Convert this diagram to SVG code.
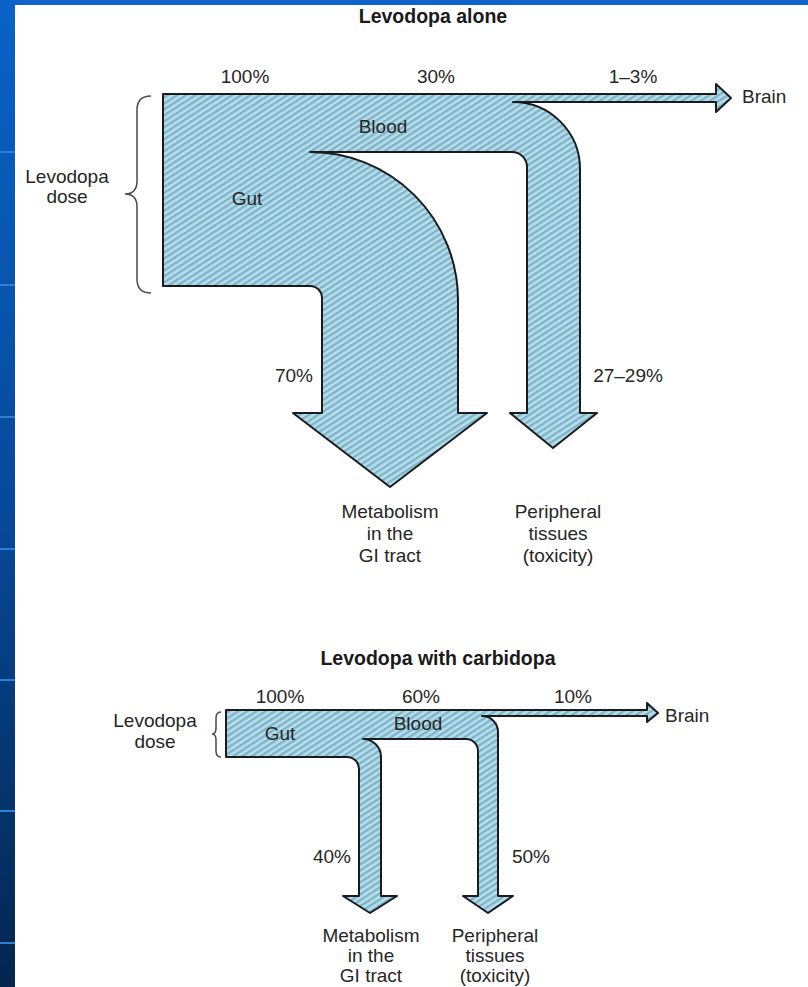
<svg xmlns="http://www.w3.org/2000/svg" width="808" height="987" viewBox="0 0 808 987">
  <defs>
    <linearGradient id="sideGrad" x1="0" y1="0" x2="0" y2="1">
      <stop offset="0" stop-color="#0a62c8"/>
      <stop offset="0.5" stop-color="#074a9c"/>
      <stop offset="1" stop-color="#04264f"/>
    </linearGradient>
    <pattern id="hatch" patternUnits="userSpaceOnUse" width="6" height="5" patternTransform="rotate(-33)">
      <rect width="6" height="5" fill="#b9deeb"/>
      <rect width="6" height="2.4" fill="#7db4ca"/>
    </pattern>
    <style>
      .flow { fill: url(#hatch); stroke: #1b1b1b; stroke-width: 2; stroke-linejoin: round; }
      .brace { fill: none; stroke: #4a4a4a; stroke-width: 1.5; }
      .lbl { font-family: "Liberation Sans", Arial, sans-serif; font-size: 19px; fill: #262626; text-anchor: middle; }
      .ttl { font-family: "Liberation Sans", Arial, sans-serif; font-size: 19.5px; font-weight: bold; fill: #1a1a1a; text-anchor: middle; }
      .sep { stroke: #2f7fd6; stroke-width: 2; }
    </style>
  </defs>

  <!-- background frame -->
  <g id="frame">
    <rect x="0" y="0" width="808" height="987" fill="#ffffff"/>
    <rect x="0" y="0" width="808" height="5" fill="#0d63c9"/>
    <rect x="0" y="0" width="15" height="987" fill="url(#sideGrad)"/>
    <line class="sep" x1="0" y1="152" x2="15" y2="152"/>
    <line class="sep" x1="0" y1="285" x2="15" y2="285"/>
    <line class="sep" x1="0" y1="417" x2="15" y2="417"/>
    <line class="sep" x1="0" y1="549" x2="15" y2="549"/>
    <line class="sep" x1="0" y1="680" x2="15" y2="680"/>
    <line class="sep" x1="0" y1="811" x2="15" y2="811"/>
    <line class="sep" x1="0" y1="943" x2="15" y2="943"/>
  </g>

  <!-- ===== Top diagram: Levodopa alone ===== -->
  <g id="top-title">
    <text class="ttl" x="433" y="23">Levodopa alone</text>
  </g>

  <g id="top-flow">
    <path class="flow" d="M163,94 L716,94 L716,84 L731,98 L716,112 L716,102 L513,102
      A67,67 0 0 1 580,169 L580,413 L597,413 L553,448 L510,413 L527,413 L527,167
      A15,15 0 0 0 512,152 L310,152 A148,148 0 0 1 458,300 L458,413 L487,413 L390,487
      L293,413 L322,413 L322,298 A12,12 0 0 0 310,286 L163,286 Z"/>
  </g>

  <g id="top-dose">
    <path class="brace" d="M151,96 Q137,96 137,110 L137,181 Q137,194 125,194 Q137,194 137,207 L137,279 Q137,293 151,293"/>
    <text class="lbl" x="67" y="183">Levodopa</text>
    <text class="lbl" x="67" y="203">dose</text>
  </g>

  <g id="top-labels">
    <text class="lbl" x="245" y="83">100%</text>
    <text class="lbl" x="436" y="83">30%</text>
    <text class="lbl" x="633" y="83">1–3%</text>
    <text class="lbl" x="383" y="133">Blood</text>
    <text class="lbl" x="247" y="205">Gut</text>
    <text class="lbl" x="294" y="382">70%</text>
    <text class="lbl" x="628" y="382">27–29%</text>
  </g>

  <g id="top-brain">
    <text class="lbl" x="742" y="103" style="text-anchor:start">Brain</text>
  </g>

  <g id="top-metabolism">
    <text class="lbl" x="390" y="518">Metabolism</text>
    <text class="lbl" x="390" y="540">in the</text>
    <text class="lbl" x="390" y="562">GI tract</text>
  </g>

  <g id="top-peripheral">
    <text class="lbl" x="558" y="518">Peripheral</text>
    <text class="lbl" x="558" y="540">tissues</text>
    <text class="lbl" x="558" y="562">(toxicity)</text>
  </g>

  <!-- ===== Bottom diagram: Levodopa with carbidopa ===== -->
  <g id="bottom-title">
    <text class="ttl" x="438" y="665">Levodopa with carbidopa</text>
  </g>

  <g id="bottom-flow">
    <path class="flow" d="M226,710 L647,710 L647,703 L658,713 L647,722 L647,716 L482,716
      A16,16 0 0 1 498,732 L498,896 L513,896 L488,913 L463,896 L478,896 L478,751
      A12,12 0 0 0 466,739 L363,739 A18,18 0 0 1 381,757 L381,896 L397,896 L370,913
      L343,896 L359,896 L359,769 A12,12 0 0 0 347,757 L226,757 Z"/>
  </g>

  <g id="bottom-dose">
    <path class="brace" d="M221,712 Q216,712 216,718 L216,728 Q216,734 212,734 Q216,734 216,740 L216,751 Q216,757 221,757"/>
    <text class="lbl" x="155" y="727">Levodopa</text>
    <text class="lbl" x="155" y="748">dose</text>
  </g>

  <g id="bottom-labels">
    <text class="lbl" x="280" y="703">100%</text>
    <text class="lbl" x="421" y="703">60%</text>
    <text class="lbl" x="573" y="703">10%</text>
    <text class="lbl" x="418" y="730">Blood</text>
    <text class="lbl" x="280" y="740">Gut</text>
    <text class="lbl" x="332" y="863">40%</text>
    <text class="lbl" x="531" y="863">50%</text>
  </g>

  <g id="bottom-brain">
    <text class="lbl" x="665" y="722" style="text-anchor:start">Brain</text>
  </g>

  <g id="bottom-metabolism">
    <text class="lbl" x="371" y="942">Metabolism</text>
    <text class="lbl" x="371" y="962">in the</text>
    <text class="lbl" x="371" y="982">GI tract</text>
  </g>

  <g id="bottom-peripheral">
    <text class="lbl" x="495" y="942">Peripheral</text>
    <text class="lbl" x="495" y="962">tissues</text>
    <text class="lbl" x="495" y="982">(toxicity)</text>
  </g>

  <g id="connectors"></g>
</svg>
